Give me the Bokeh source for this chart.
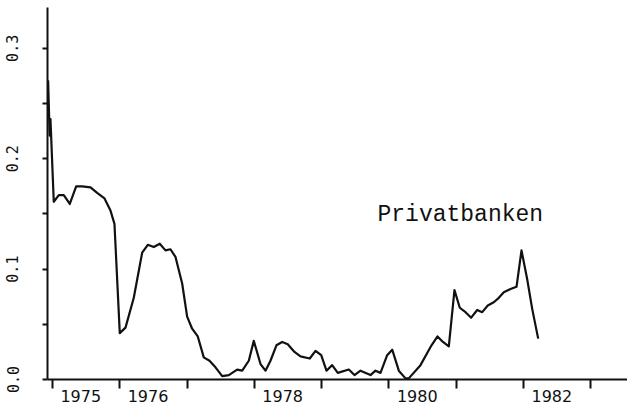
from bokeh.plotting import figure
from bokeh.models import Range1d, FixedTicker, PrintfTickFormatter
from bokeh.embed import file_html
from bokeh.resources import INLINE
from bokeh.core.properties import value

# ---- data ----
years = [1974.935, 1974.958, 1974.970, 1975.019, 1975.094, 1975.168, 1975.257, 1975.352,
         1975.441, 1975.565, 1975.664, 1975.773, 1975.862, 1975.921, 1976.000, 1976.085,
         1976.208, 1976.333, 1976.416, 1976.505, 1976.594, 1976.679, 1976.753, 1976.828,
         1976.927, 1977.001, 1977.075, 1977.159, 1977.248, 1977.333, 1977.422, 1977.522,
         1977.620, 1977.744, 1977.819, 1977.917, 1977.991, 1978.091, 1978.165, 1978.239,
         1978.328, 1978.413, 1978.496, 1978.596, 1978.685, 1978.823, 1978.908, 1978.993,
         1979.071, 1979.156, 1979.239, 1979.403, 1979.487, 1979.577, 1979.725, 1979.799,
         1979.874, 1979.973, 1980.048, 1980.146, 1980.245, 1980.294, 1980.468, 1980.632,
         1980.721, 1980.802, 1980.889, 1980.973, 1981.052, 1981.137, 1981.221, 1981.311,
         1981.385, 1981.468, 1981.557, 1981.632, 1981.706, 1981.806, 1981.895, 1981.969,
         1982.053, 1982.128, 1982.217]
rate = [0.271, 0.221, 0.236, 0.161, 0.167, 0.167, 0.159, 0.175,
        0.175, 0.174, 0.169, 0.164, 0.153, 0.141, 0.042, 0.047,
        0.074, 0.115, 0.122, 0.120, 0.123, 0.117, 0.118, 0.111,
        0.087, 0.057, 0.046, 0.039, 0.020, 0.017, 0.011, 0.003,
        0.004, 0.009, 0.008, 0.017, 0.035, 0.014, 0.008, 0.017,
        0.031, 0.034, 0.032, 0.025, 0.021, 0.019, 0.026, 0.022,
        0.008, 0.013, 0.006, 0.009, 0.004, 0.008, 0.004, 0.008,
        0.006, 0.022, 0.027, 0.008, 0.001, 0.001, 0.013, 0.031,
        0.039, 0.034, 0.030, 0.081, 0.065, 0.061, 0.056, 0.063,
        0.061, 0.067, 0.070, 0.074, 0.079, 0.082, 0.084, 0.117,
        0.091, 0.064, 0.037]

year_ticks = [1975, 1976, 1977, 1978, 1979, 1980, 1981, 1982, 1983]   # year boundaries
year_labels = ["1975", "1976", "1978", "1980", "1982"]
label_offset = 0.42          # labels sit inside their year, left of centre
y_ticks = [0.0, 0.1, 0.2, 0.3]
y_minor_ticks = [0.05, 0.15, 0.25]
series_name = "Privatbanken"
name_pos = (1979.829, 0.1486)

INK = "#111111"

p = figure(width=627, height=405, output_backend="svg", toolbar_location=None,
           x_range=Range1d(1974.926, 1983.544), y_range=Range1d(0.0, 0.337),
           min_border_left=47, min_border_right=0, min_border_top=7, min_border_bottom=26)
p.outline_line_color = None
p.background_fill_color = "white"
p.border_fill_color = "white"
p.xgrid.visible = False
p.ygrid.visible = False

p.line(years, rate, line_color=INK, line_width=2.2, line_join="round")

# x axis: tick marks at year boundaries (minor), labels at positions inside the year (major)
label_ticks = [int(s) + label_offset for s in year_labels]
xa = p.xaxis[0]
xa.ticker = FixedTicker(ticks=label_ticks, minor_ticks=year_ticks)
xa.formatter = PrintfTickFormatter(format="%d")
xa.major_label_overrides = {t: s for t, s in zip(label_ticks, year_labels)}
xa.axis_line_color = INK
xa.axis_line_width = 2
xa.major_tick_line_color = None
xa.major_tick_out = 0
xa.major_tick_in = 0
xa.minor_tick_line_color = INK
xa.minor_tick_line_width = 2
xa.minor_tick_out = 9
xa.minor_tick_in = 0
xa.major_label_standoff = 1
xa.major_label_text_font = "DejaVu Sans"
xa.major_label_text_font_size = "16px"
xa.major_label_text_color = INK

# y axis
ya = p.yaxis[0]
ya.ticker = FixedTicker(ticks=y_ticks, minor_ticks=y_minor_ticks)
ya.formatter = PrintfTickFormatter(format="%.1f")
ya.axis_line_color = INK
ya.axis_line_width = 2
ya.major_tick_line_color = INK
ya.major_tick_line_width = 2
ya.major_tick_out = 5
ya.major_tick_in = 0
ya.minor_tick_line_color = INK
ya.minor_tick_line_width = 2
ya.minor_tick_out = 5
ya.minor_tick_in = 0
ya.major_label_orientation = "vertical"
ya.major_label_standoff = 24
ya.major_label_text_font = "DejaVu Sans Mono"
ya.major_label_text_font_size = "15px"
ya.major_label_text_color = INK

p.text(x=[name_pos[0]], y=[name_pos[1]], text=[series_name],
       text_font=value("Liberation Mono"), text_font_size="23px",
       text_color=INK, text_align="left", text_baseline="alphabetic")

open("out.html", "w").write(file_html(p, INLINE))
